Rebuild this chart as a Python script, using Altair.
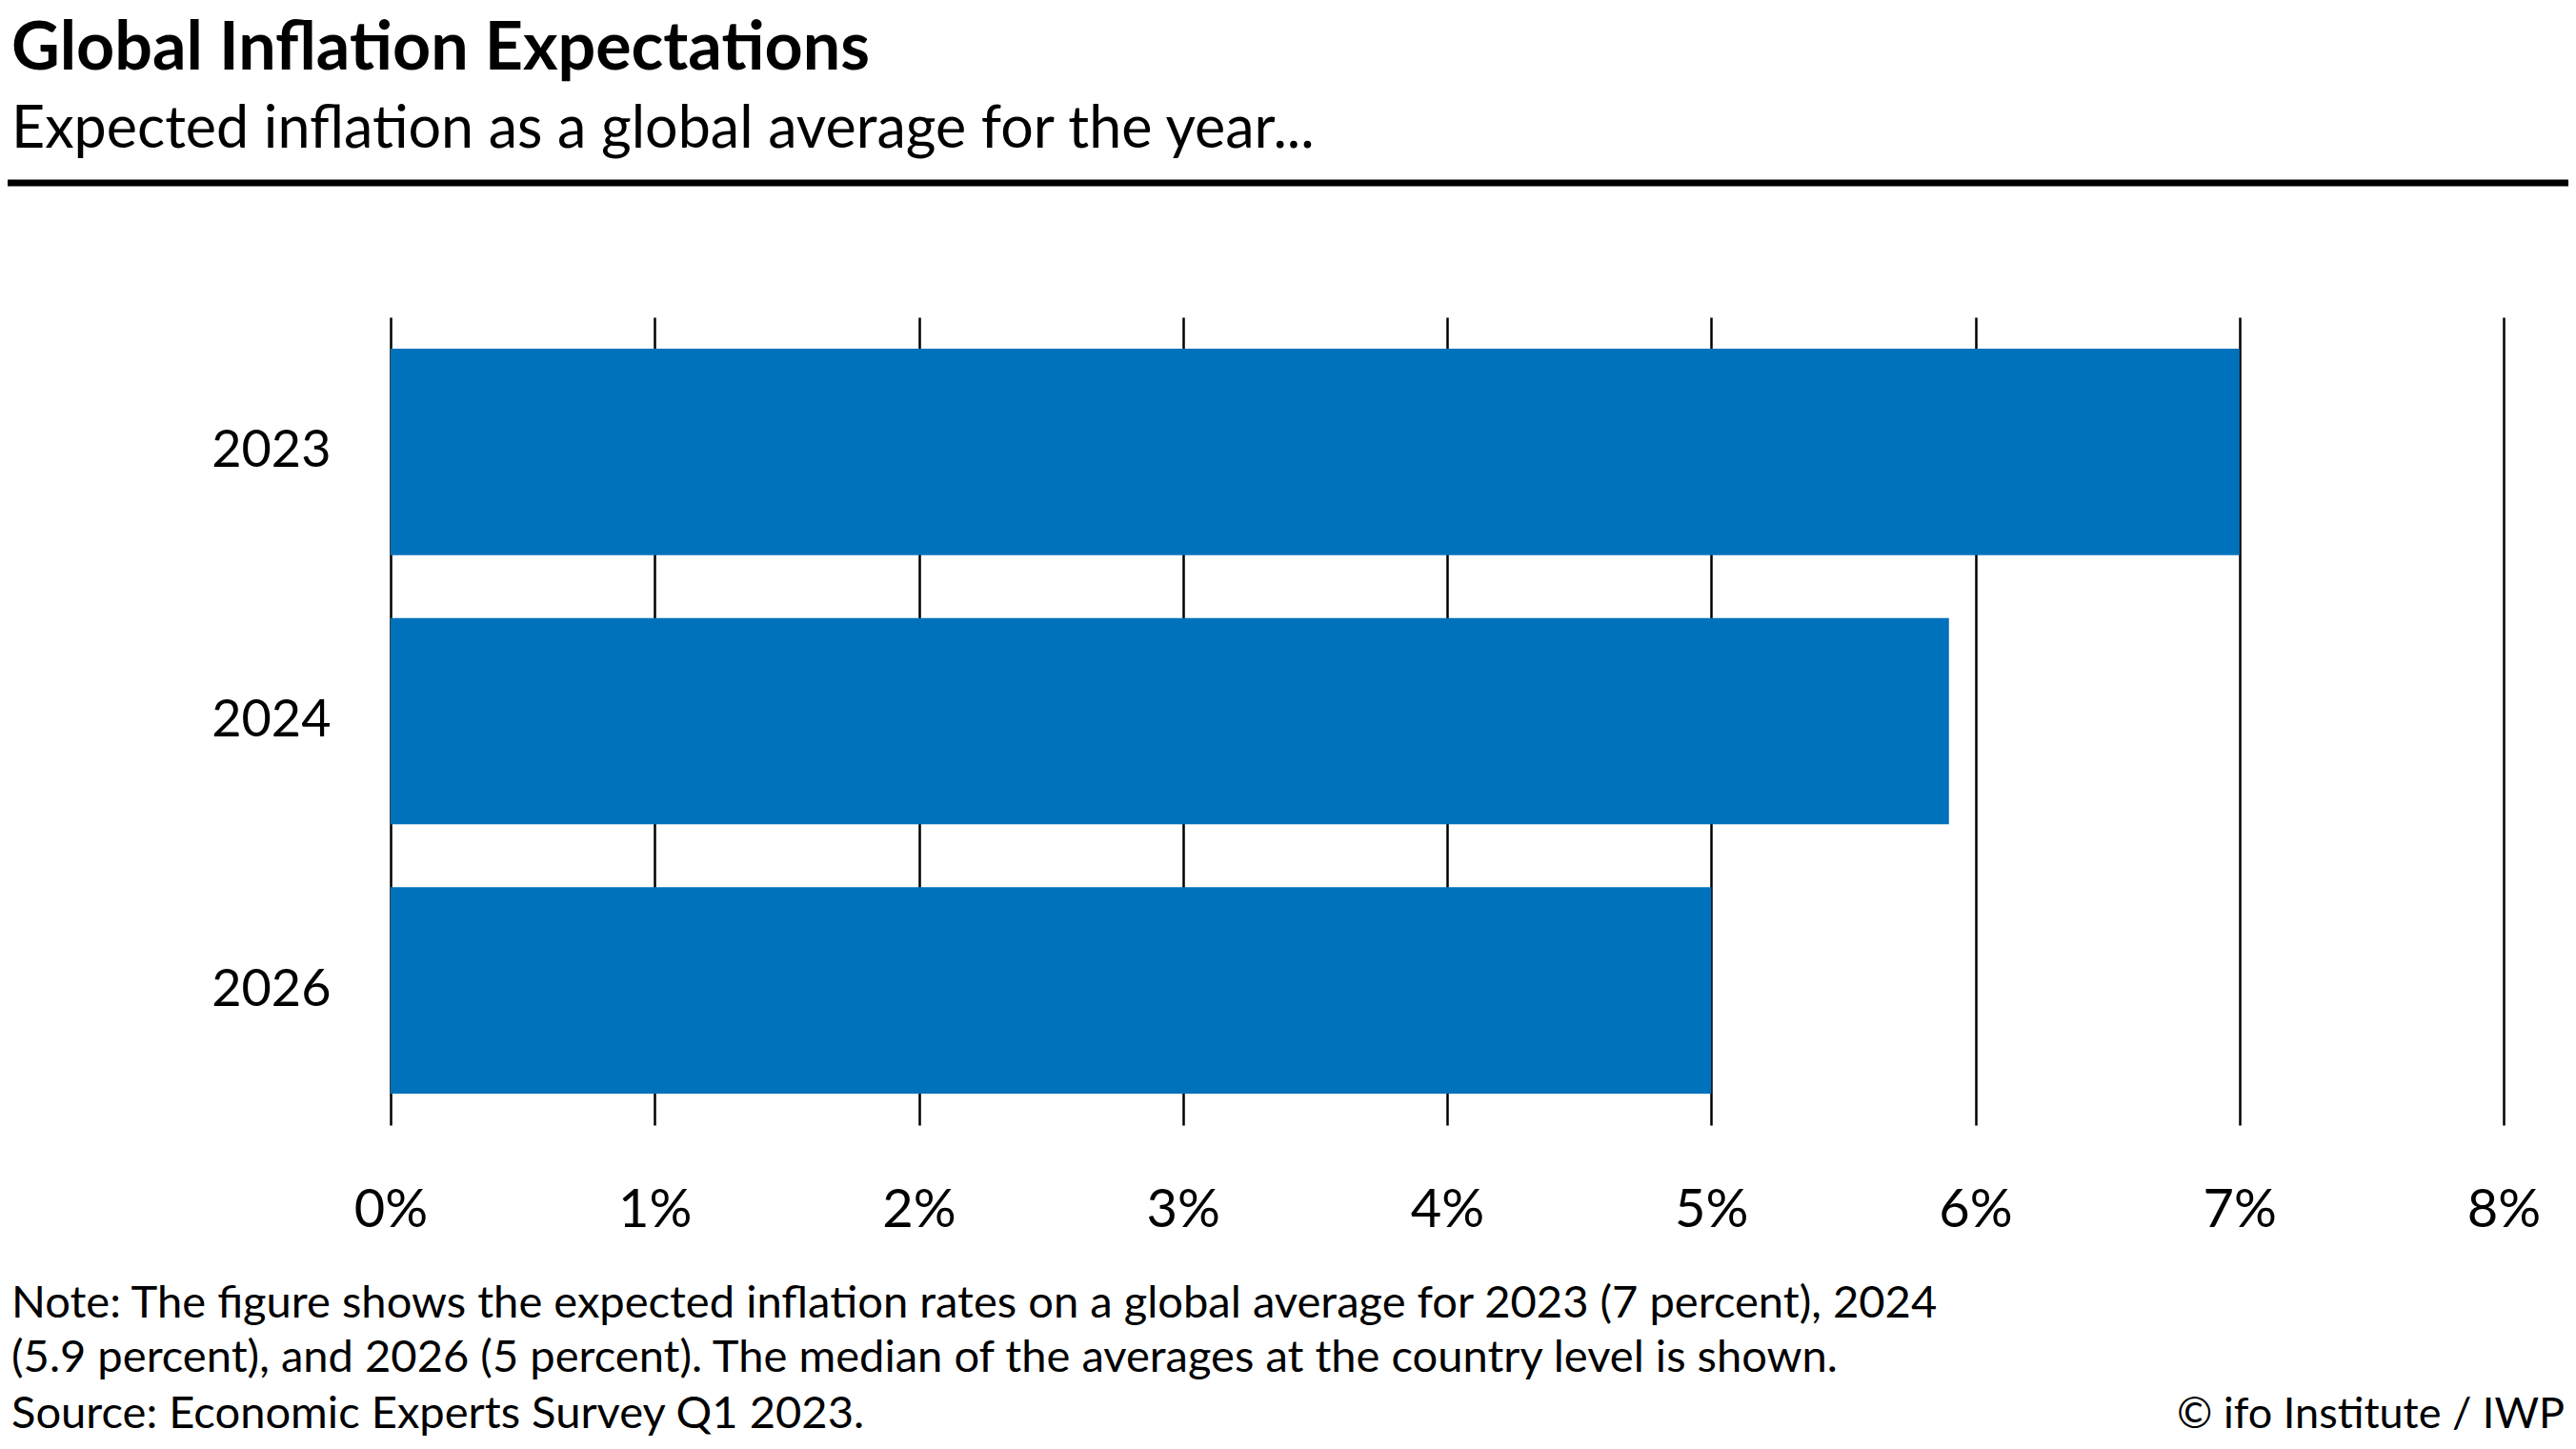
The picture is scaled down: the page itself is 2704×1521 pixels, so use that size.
import altair as alt
import pandas as pd

years = ["2023", "2024", "2026"]
values = [7.0, 5.9, 5.0]
x_ticks = [0, 1, 2, 3, 4, 5, 6, 7, 8]

title_text = "Global Inflation Expectations"
subtitle_text = "Expected inflation as a global average for the year..."
note_lines = [
    "Note: The figure shows the expected inflation rates on a global average for 2023 (7 percent), 2024",
    "(5.9 percent), and 2026 (5 percent). The median of the averages at the country level is shown.",
    "Source: Economic Experts Survey Q1 2023.",
]
credit_text = "© ifo Institute / IWP"

FONT = "Lato"
BAR_COLOR = "#0072BC"

df = pd.DataFrame({"year": years, "value": values})

bars = alt.Chart(df).mark_bar(color=BAR_COLOR).encode(
    x=alt.X(
        "value:Q",
        scale=alt.Scale(domain=[0, 8], nice=False, zero=True),
        axis=alt.Axis(
            values=x_ticks, labelExpr="datum.value + '%'", title=None,
            grid=True, gridColor="black", gridWidth=2.5, gridOpacity=1,
            domain=False, ticks=False, tickSize=0, labelPadding=106,
            labelBaseline="alphabetic", labelFontSize=56, labelColor="black",
            labelFont=FONT, labelFlush=False, labelOverlap=False,
        ),
    ),
    y=alt.Y(
        "year:N", sort=years,
        scale=alt.Scale(paddingInner=0.233, paddingOuter=0.117),
        axis=alt.Axis(
            title=None, domain=False, ticks=False, tickSize=0, labelPadding=63,
            labelFontSize=54, labelColor="black", labelFont=FONT,
        ),
    ),
)


def text_item(txt, x, y, size, weight="normal", align="left"):
    d = pd.DataFrame({"t": [txt]})
    return alt.Chart(d).mark_text(
        font=FONT, fontSize=size, fontWeight=weight, align=align,
        baseline="alphabetic", color="black",
    ).encode(text="t:N", x=alt.value(x), y=alt.value(y))


LEFT = -398
title = text_item(title_text, LEFT, -260, 70, weight="bold")
subtitle = text_item(subtitle_text, LEFT, -178, 61)
rule = alt.Chart(pd.DataFrame({"a": [0]})).mark_rule(color="black", strokeWidth=7).encode(
    x=alt.value(-402), x2=alt.value(2300), y=alt.value(-141)
)
note1 = text_item(note_lines[0], LEFT, 1050, 47.1)
note2 = text_item(note_lines[1], LEFT, 1107, 47.1)
note3 = text_item(note_lines[2], LEFT, 1166, 47.1)
credit = text_item(credit_text, 2282, 1166, 45, align="right")

chart = alt.layer(bars, rule, title, subtitle, note1, note2, note3, credit).properties(
    width=2218,
    height=848,
    autosize=alt.AutoSizeParams(type="none"),
    padding={"left": 402, "top": 325, "right": 68, "bottom": 327},
).configure_view(stroke=None)

chart.save("out.html", embed_options={"renderer": "svg", "actions": False})
